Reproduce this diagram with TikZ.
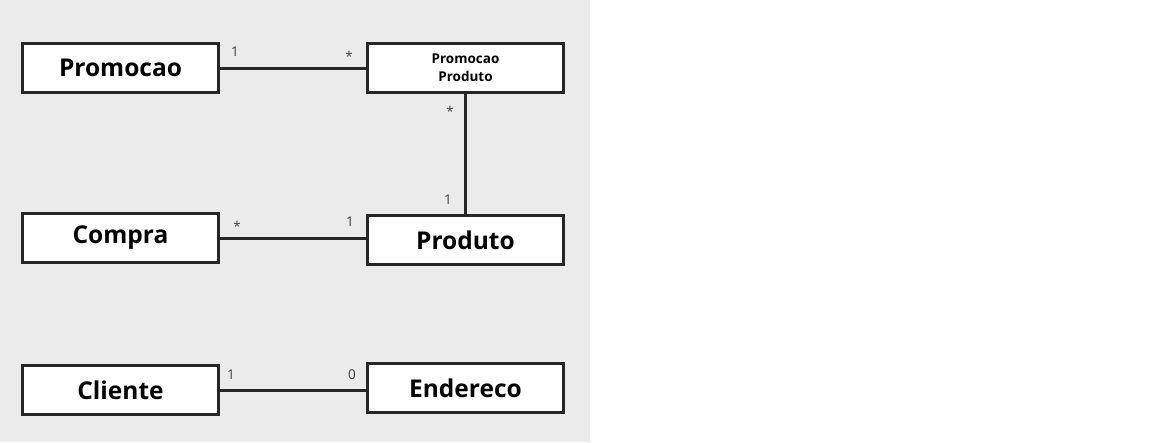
\documentclass[tikz,border=0pt]{standalone}
\usepackage{fontspec}
\setmainfont{Open Sans}
\begin{document}
\begin{tikzpicture}[x=1pt,y=-1pt,
  cls/.style={draw=black!85,line width=3.5pt,fill=white,minimum width=196pt,minimum height=49pt,inner sep=0pt,font=\fontsize{24.5}{28}\selectfont\bfseries},
  small/.style={font=\fontsize{13.5}{18}\selectfont\bfseries,align=center},
  assoc/.style={draw=black!85,line width=3pt},
  mult/.style={font=\fontsize{13.5}{15}\selectfont,text=black!75,inner sep=0pt}]
\useasboundingbox (0,0) rectangle (1151,442);
\fill[white] (0,0) rectangle (1151,442);
\fill[black!8] (0,0) rectangle (590,442);
\node[cls] (promocao) at (120.5,68) {Promocao};
\node[cls,small] (pp) at (465.5,68) {Promocao\\Produto};
\node[cls] (compra) at (120.5,238) {Compra};
\node[cls] (produto) at (465.5,240) {Produto};
\node[cls] (cliente) at (120.5,390) {Cliente};
\node[cls] (endereco) at (465.5,388) {Endereco};
\draw[assoc] (promocao.east) -- (pp.west);
\draw[assoc] (pp.south) -- (produto.north);
\draw[assoc] (compra.east) -- (compra.east -| produto.west);
\draw[assoc] (cliente.east) -- (cliente.east -| endereco.west);
\node[mult] (m1) at (235,52) {1};
\node[mult] (m2) at (349,56) {*};
\node[mult] (m3) at (450,111) {*};
\node[mult] (m4) at (448,200) {1};
\node[mult] (m5) at (237,226) {*};
\node[mult] (m6) at (350,222) {1};
\node[mult] (m7) at (231,375) {1};
\node[mult] (m8) at (352,375) {0};
\end{tikzpicture}
\end{document}
